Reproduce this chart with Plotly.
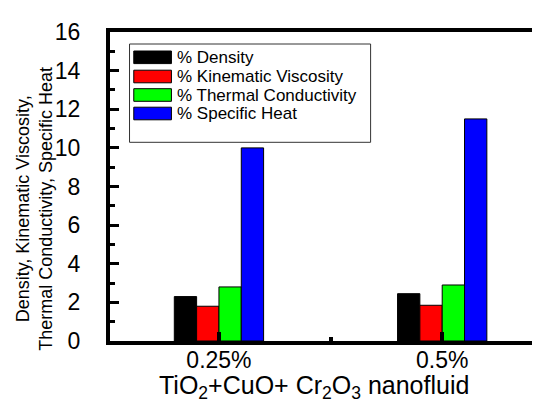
import plotly.graph_objects as go

categories = ["0.25%", "0.5%"]
cat_pos = [1, 2]
series_names = ["% Density", "% Kinematic Viscosity", "% Thermal Conductivity", "% Specific Heat"]
density = [2.3, 2.45]
kin_visc = [1.8, 1.85]
therm_cond = [2.8, 2.9]
spec_heat = [10.0, 11.5]
colors = ["#000000", "#FF0000", "#00FF00", "#0000FF"]
y_ticks = [0, 2, 4, 6, 8, 10, 12, 14, 16]

series_values = [density, kin_visc, therm_cond, spec_heat]

W, H = 540, 403
L, R, T, B = 102, 0, 24, 70
PW, PH = W - L - R, H - T - B

def px_x(x):
    return (x - L) / PW

def px_y(y):
    return (H - B - y) / PH

fig = go.Figure()
for name, vals, col in zip(series_names, series_values, colors):
    fig.add_trace(go.Bar(
        x=cat_pos, y=vals, name=name,
        marker=dict(color=col, line=dict(color="#000000", width=1)),
        showlegend=False,
    ))

font_family = "Liberation Sans, Arial, sans-serif"

shapes = []
annotations = []
# custom legend box
shapes.append(dict(type="rect", xref="paper", yref="paper",
                   x0=px_x(121.7), x1=px_x(365), y0=px_y(134.3), y1=px_y(36),
                   line=dict(color="#333333", width=1), fillcolor="rgba(0,0,0,0)", layer="above"))
row_y = [49.3, 68.5, 87.0, 105.5]
for name, col, ry in zip(series_names, colors, row_y):
    shapes.append(dict(type="rect", xref="paper", yref="paper",
                       x0=px_x(126), x1=px_x(164), y0=px_y(ry + 6.3), y1=px_y(ry - 6.3),
                       line=dict(color="#000000", width=1), fillcolor=col, layer="above"))
    annotations.append(dict(text=name, xref="paper", yref="paper",
                            x=px_x(168), y=px_y(ry), xanchor="left", yanchor="middle",
                            showarrow=False, font=dict(size=17, color="#000000", family=font_family)))

# x-axis title
annotations.append(dict(text="TiO<sub>2</sub>+CuO+ Cr<sub>2</sub>O<sub>3</sub> nanofluid",
                        xref="paper", yref="paper", x=px_x(307.5), y=px_y(397.5),
                        xanchor="center", yanchor="bottom", showarrow=False,
                        font=dict(size=25, color="#000000", family=font_family)))
# y-axis title
annotations.append(dict(text="Density, Kinematic Viscosity,<br>Thermal Conductivity, Specific Heat",
                        xref="paper", yref="paper", x=px_x(25), y=px_y(201),
                        xanchor="center", yanchor="middle", textangle=-90, showarrow=False,
                        font=dict(size=18, color="#000000", family=font_family)))

fig.update_layout(
    width=W, height=H,
    margin=dict(l=L, r=R, t=T, b=B, pad=0),
    paper_bgcolor="white", plot_bgcolor="white",
    barmode="group", bargap=0.6, bargroupgap=0,
    font=dict(family=font_family, color="#000000"),
    shapes=shapes, annotations=annotations,
    xaxis=dict(
        range=[0.512, 2.456], tickmode="array", tickvals=cat_pos, ticktext=categories,
        ticks="inside", ticklen=9, tickwidth=4, tickcolor="#000000",
        minor=dict(tickmode="array", tickvals=[1.5], ticks="inside", ticklen=4, tickwidth=4, tickcolor="#000000"),
        showline=True, linewidth=4, linecolor="#000000", mirror=True,
        showgrid=False, zeroline=False,
        tickfont=dict(size=23, color="#000000", family=font_family),
        ticklabelstandoff=-5,
    ),
    yaxis=dict(
        range=[0, 16], tickmode="array", tickvals=y_ticks, ticktext=[str(v) for v in y_ticks],
        ticks="inside", ticklen=9, tickwidth=3, tickcolor="#000000",
        minor=dict(tickmode="array", tickvals=[1, 3, 5, 7, 9, 11, 13, 15], ticks="inside",
                   ticklen=5, tickwidth=3, tickcolor="#000000"),
        showline=True, linewidth=4, linecolor="#000000", mirror=True,
        showgrid=False, zeroline=False,
        tickfont=dict(size=23, color="#000000", family=font_family),
        ticklabelstandoff=21,
    ),
)

fig.write_html("out.html")
